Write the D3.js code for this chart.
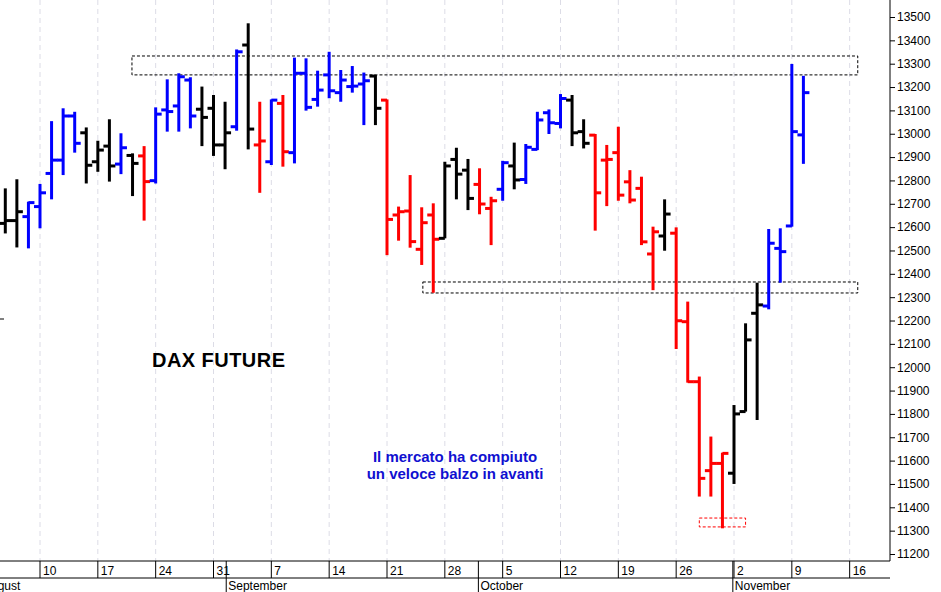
<!DOCTYPE html>
<html><head><meta charset="utf-8">
<script src="https://cdn.jsdelivr.net/npm/d3@7"></script>
<style>body{margin:0;background:#fff}svg{display:block}text{font-family:"Liberation Sans",Arial,sans-serif}</style>
</head><body><svg id="c" width="941" height="592"></svg>
<script>
const opens  =[12616,12628,12645,12688,12830,12887,13076,13004,12880,12947,12870,12907,12905,12799,13102,13119,13230,13105,13109,12952,13030,13380,12952,12880,13130,12919,13259,13147,13252,13176,13202,13213,13247,13144,12652,12669,12505,12652,12552,12890,12844,12783,12680,12762,12862,12804,12933,13090,13044,13144,13009,12994,12887,12919,12794,12766,12485,12562,12574,12195,11938,11557,11588,11546,11810,12231,12262,12509,12605,12995];
const highs  =[12766,12805,12709,12785,13054,13109,13094,13027,12970,13062,13002,12916,12947,13113,13233,13259,13242,13202,13166,13137,13361,13473,13137,13147,13166,13326,13323,13270,13351,13273,13290,13262,13252,13147,12688,12823,12685,12702,12880,12940,12892,12852,12730,12884,12962,12956,13094,13104,13170,13166,13062,12999,12952,13030,12844,12816,12602,12719,12599,12281,11960,11703,11634,11838,12188,12362,12592,12595,13299,13248];
const lows   =[12573,12513,12509,12595,12719,12823,12919,12787,12837,12795,12827,12733,12628,12787,13009,13009,13023,12947,12905,12848,13013,12933,12747,12866,12859,12873,13099,13116,13152,13137,13176,13037,13037,12480,12542,12512,12438,12319,12552,12719,12673,12655,12523,12713,12762,12785,12930,12999,13023,12947,12937,12585,12690,12713,12702,12523,12330,12499,12078,11934,11446,11446,11310,11500,11810,11774,12248,12362,12602,12871];
const closes =[12628,12666,12705,12747,12887,13076,12959,12865,12930,12862,12940,12873,12795,13084,13095,13244,13076,13070,12952,13004,13351,13020,12969,13144,12923,13259,13113,13187,13184,13230,13204,13227,13109,12633,12666,12538,12619,12548,12862,12827,12723,12699,12713,12876,12802,12942,13059,13047,13151,13004,12959,12747,12890,12737,12716,12537,12580,12656,12199,11938,11524,11588,11631,11800,12117,12267,12531,12495,13009,13176];
const colorsKey="KKBBBBBKKKBKRBBBBKKKBKRBRBBBBBBBKRRRRRKKKRRBKBBBBKKRRRRRRKRRRRRKKKBBBB";
const weekLabels=["10","17","24","31","7","14","21","28","5","12","19","26","2","9","16"];
const weekIdx=[3,8,13,18,23,28,33,38,43,48,53,58,63,68,73];
const months=["August","September","October","November"];
const monthIdx=[1.3,19.1,40.9,62.9];
const boxes=[[10.95,73.7,13252,13333],[36.1,73.7,12318,12365],[60,64,11316,11354]];
const boxColors=["#000","#000","#f00"];
const yTicks=d3.range(11200,13501,100);

const svg=d3.select("#c");
const x=d3.scaleLinear().domain([3,63]).range([40,734]);
const y=d3.scaleLinear().domain([11200,13500]).range([554,17]);
const cmap={K:"#000",B:"#0000ff",R:"#ff0000"};
const axX=890, axY=561;

svg.append("g").selectAll("line").data(weekIdx).join("line")
 .attr("x1",d=>x(d)).attr("x2",d=>x(d)).attr("y1",0).attr("y2",axY)
 .attr("stroke","#dcdce6").attr("stroke-dasharray","5,4");

boxes.forEach((b,i)=>{svg.append("rect").attr("x",x(b[0])).attr("width",x(b[1])-x(b[0]))
 .attr("y",y(b[3])).attr("height",y(b[2])-y(b[3])).attr("fill","none")
 .attr("stroke",boxColors[i]).attr("stroke-dasharray","3,2").attr("stroke-width",1);});

const g=svg.append("g").attr("stroke-width",3);
opens.forEach((o,i)=>{
 const c=cmap[colorsKey[i]], cx=x(i);
 g.append("line").attr("x1",cx).attr("x2",cx).attr("y1",y(highs[i])).attr("y2",y(lows[i])).attr("stroke",c);
 g.append("line").attr("x1",cx-6).attr("x2",cx).attr("y1",y(o)).attr("y2",y(o)).attr("stroke",c);
 g.append("line").attr("x1",cx).attr("x2",cx+6).attr("y1",y(closes[i])).attr("y2",y(closes[i])).attr("stroke",c);
});

const ra=svg.append("g").attr("transform",`translate(${axX},0)`)
 .call(d3.axisRight(y).tickValues(yTicks).tickFormat(d3.format("d")).tickSize(5).tickPadding(2));
ra.select(".domain").remove();
ra.selectAll("text").attr("font-size",12).attr("font-family","Liberation Sans, Arial").attr("fill","#000");
svg.append("line").attr("x1",axX).attr("x2",axX).attr("y1",0).attr("y2",axY).attr("stroke","#000");

svg.append("line").attr("x1",0).attr("x2",axX).attr("y1",axY).attr("y2",axY).attr("stroke","#000");
svg.append("line").attr("x1",0).attr("x2",axX).attr("y1",578).attr("y2",578).attr("stroke","#000");
svg.append("g").selectAll("line").data(weekIdx).join("line")
 .attr("x1",d=>x(d)).attr("x2",d=>x(d)).attr("y1",axY).attr("y2",578).attr("stroke","#000");
svg.append("g").selectAll("text").data(weekLabels).join("text")
 .attr("x",(d,i)=>x(weekIdx[i])+3).attr("y",575).attr("font-size",12).text(d=>d);
svg.append("g").selectAll("line").data(monthIdx.slice(1)).join("line")
 .attr("x1",d=>x(d)).attr("x2",d=>x(d)).attr("y1",axY).attr("y2",592).attr("stroke","#000");
svg.append("g").selectAll("text").data(months).join("text")
 .attr("x",(d,i)=>i===0?x(monthIdx[i]):x(monthIdx[i])+2).attr("text-anchor",(d,i)=>i===0?"end":"start")
 .attr("y",590).attr("font-size",12).text(d=>d);

svg.append("text").attr("x",152).attr("y",367).attr("font-size",20).attr("font-weight","bold").attr("textLength",133).text("DAX FUTURE");
svg.append("text").attr("x",455).attr("y",462).attr("text-anchor","middle").attr("font-size",15).attr("font-weight","bold").attr("fill","#1010d0").text("Il mercato ha compiuto");
svg.append("text").attr("x",455).attr("y",479).attr("text-anchor","middle").attr("font-size",15).attr("font-weight","bold").attr("fill","#1010d0").text("un veloce balzo in avanti");
svg.append("line").attr("x1",0).attr("x2",4).attr("y1",319).attr("y2",319).attr("stroke","#000");
</script></body></html>
